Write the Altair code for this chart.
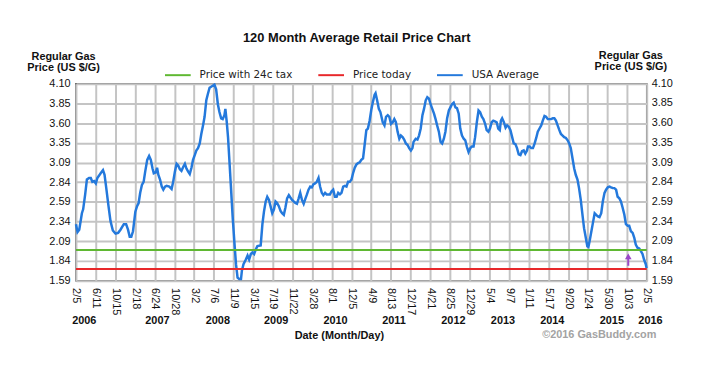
import altair as alt
import numpy as np
import pandas as pd

# ---------------- data (decimal year, price $/gal) ----------------
seg_2006_2007 = [
    (2006.098, 2.31), (2006.127, 2.21), (2006.156, 2.24), (2006.202, 2.45), (2006.225, 2.50),
    (2006.260, 2.69), (2006.289, 2.88), (2006.329, 2.90), (2006.358, 2.90), (2006.387, 2.85),
    (2006.416, 2.86), (2006.445, 2.83), (2006.474, 2.90), (2006.503, 2.93), (2006.532, 2.96),
    (2006.572, 3.00), (2006.601, 2.94), (2006.630, 2.77), (2006.665, 2.56), (2006.705, 2.35),
    (2006.746, 2.23), (2006.792, 2.19), (2006.838, 2.20), (2006.879, 2.24), (2006.936, 2.31),
    (2006.977, 2.31), (2007.011, 2.24), (2007.040, 2.15), (2007.069, 2.15), (2007.098, 2.22),
    (2007.139, 2.47), (2007.168, 2.54), (2007.196, 2.58), (2007.225, 2.71), (2007.254, 2.81),
    (2007.283, 2.85), (2007.312, 2.98), (2007.347, 3.13), (2007.381, 3.18), (2007.410, 3.13),
    (2007.439, 3.02), (2007.462, 2.96), (2007.497, 2.97), (2007.520, 3.03), (2007.543, 2.94),
    (2007.572, 2.88), (2007.601, 2.79), (2007.630, 2.75), (2007.659, 2.79), (2007.688, 2.80),
]
seg_2007_2009 = [
    (2007.734, 2.79), (2007.775, 2.76), (2007.803, 2.85), (2007.832, 2.98), (2007.861, 3.08),
    (2007.890, 3.06), (2007.919, 3.01), (2007.948, 2.99), (2007.977, 3.04), (2008.006, 3.08),
    (2008.035, 3.02), (2008.064, 2.98), (2008.092, 2.95), (2008.121, 3.03), (2008.150, 3.13),
    (2008.179, 3.19), (2008.208, 3.25), (2008.237, 3.28), (2008.266, 3.34), (2008.295, 3.46),
    (2008.324, 3.57), (2008.353, 3.68), (2008.382, 3.89), (2008.410, 3.97), (2008.439, 4.05),
    (2008.480, 4.07), (2008.526, 4.09), (2008.555, 4.03), (2008.584, 3.84), (2008.613, 3.74),
    (2008.642, 3.66), (2008.671, 3.65), (2008.699, 3.70), (2008.717, 3.78), (2008.740, 3.61),
    (2008.763, 3.42), (2008.786, 3.15), (2008.815, 2.77), (2008.844, 2.39), (2008.873, 2.10),
    (2008.902, 1.80), (2008.931, 1.63), (2008.960, 1.61), (2008.989, 1.61), (2009.006, 1.72),
    (2009.035, 1.80), (2009.075, 1.86), (2009.104, 1.91), (2009.133, 1.86), (2009.162, 1.93),
    (2009.191, 1.95), (2009.220, 1.93), (2009.249, 1.99),
]
seg_2009_2010 = [
    (2009.278, 2.03), (2009.335, 2.04), (2009.364, 2.31), (2009.393, 2.47), (2009.422, 2.60),
    (2009.451, 2.66), (2009.480, 2.62), (2009.509, 2.54), (2009.538, 2.45), (2009.567, 2.50),
    (2009.596, 2.60), (2009.624, 2.58), (2009.653, 2.54), (2009.682, 2.48), (2009.711, 2.45),
    (2009.740, 2.43), (2009.769, 2.52), (2009.798, 2.64), (2009.827, 2.68), (2009.856, 2.65),
    (2009.885, 2.62), (2009.913, 2.60), (2009.942, 2.58), (2009.971, 2.57), (2010.000, 2.64),
    (2010.029, 2.71), (2010.058, 2.62), (2010.087, 2.57), (2010.116, 2.63), (2010.145, 2.69),
    (2010.174, 2.75), (2010.203, 2.79), (2010.231, 2.78), (2010.260, 2.82), (2010.289, 2.83),
    (2010.318, 2.85), (2010.347, 2.90), (2010.376, 2.79), (2010.405, 2.71), (2010.434, 2.68),
    (2010.463, 2.71), (2010.492, 2.69), (2010.521, 2.69), (2010.549, 2.69), (2010.578, 2.73),
    (2010.607, 2.75), (2010.636, 2.66), (2010.665, 2.66), (2010.694, 2.71), (2010.723, 2.69),
    (2010.752, 2.71), (2010.781, 2.79), (2010.810, 2.80), (2010.838, 2.79), (2010.867, 2.85),
    (2010.896, 2.85), (2010.925, 2.88),
]
seg_2011_2012 = [
    (2010.954, 2.96), (2010.983, 3.03), (2011.012, 3.07), (2011.041, 3.09), (2011.070, 3.10),
    (2011.099, 3.13), (2011.128, 3.15), (2011.156, 3.32), (2011.185, 3.51), (2011.214, 3.53),
    (2011.243, 3.63), (2011.272, 3.76), (2011.301, 3.87), (2011.330, 3.96), (2011.347, 3.98),
    (2011.376, 3.89), (2011.405, 3.78), (2011.434, 3.74), (2011.474, 3.61), (2011.503, 3.57),
    (2011.532, 3.68), (2011.561, 3.70), (2011.590, 3.68), (2011.619, 3.59), (2011.648, 3.61),
    (2011.677, 3.65), (2011.705, 3.61), (2011.734, 3.49), (2011.763, 3.40), (2011.792, 3.44),
    (2011.821, 3.42), (2011.850, 3.39), (2011.879, 3.34), (2011.908, 3.32), (2011.937, 3.28),
    (2011.966, 3.25), (2011.995, 3.28), (2012.012, 3.36), (2012.052, 3.40), (2012.081, 3.39),
    (2012.110, 3.44), (2012.139, 3.53), (2012.168, 3.70), (2012.197, 3.78), (2012.226, 3.89),
    (2012.255, 3.93), (2012.284, 3.91), (2012.313, 3.84), (2012.342, 3.78), (2012.371, 3.72),
    (2012.399, 3.65), (2012.428, 3.57), (2012.457, 3.49), (2012.486, 3.36), (2012.515, 3.34),
    (2012.544, 3.40), (2012.573, 3.49),
]
seg_2012_2014 = [
    (2012.602, 3.66), (2012.631, 3.76), (2012.659, 3.80), (2012.688, 3.84), (2012.717, 3.86),
    (2012.746, 3.80), (2012.775, 3.79), (2012.804, 3.72), (2012.833, 3.53), (2012.862, 3.44),
    (2012.891, 3.40), (2012.920, 3.38), (2012.948, 3.30), (2012.977, 3.23), (2013.006, 3.28),
    (2013.035, 3.30), (2013.064, 3.30), (2013.093, 3.42), (2013.122, 3.61), (2013.151, 3.76),
    (2013.180, 3.74), (2013.209, 3.68), (2013.237, 3.65), (2013.266, 3.59), (2013.295, 3.51),
    (2013.324, 3.49), (2013.353, 3.53), (2013.382, 3.61), (2013.411, 3.63), (2013.440, 3.62),
    (2013.469, 3.61), (2013.498, 3.53), (2013.526, 3.51), (2013.544, 3.63), (2013.567, 3.66),
    (2013.596, 3.61), (2013.625, 3.54), (2013.654, 3.57), (2013.683, 3.55), (2013.711, 3.51),
    (2013.740, 3.42), (2013.769, 3.34), (2013.798, 3.33), (2013.827, 3.28), (2013.856, 3.20),
    (2013.885, 3.19), (2013.914, 3.24), (2013.943, 3.25), (2013.972, 3.21), (2014.001, 3.25),
    (2014.018, 3.30), (2014.047, 3.30), (2014.076, 3.28), (2014.105, 3.28), (2014.134, 3.34),
    (2014.162, 3.41), (2014.191, 3.49), (2014.220, 3.53),
]
seg_2014_2016 = [
    (2014.249, 3.57), (2014.278, 3.63), (2014.307, 3.69), (2014.336, 3.68), (2014.365, 3.65),
    (2014.394, 3.65), (2014.423, 3.65), (2014.452, 3.66), (2014.480, 3.66), (2014.509, 3.63),
    (2014.538, 3.57), (2014.567, 3.51), (2014.596, 3.46), (2014.625, 3.44), (2014.654, 3.42),
    (2014.683, 3.41), (2014.712, 3.38), (2014.741, 3.34), (2014.769, 3.28), (2014.798, 3.15),
    (2014.827, 3.02), (2014.856, 2.94), (2014.885, 2.88), (2014.914, 2.77), (2014.943, 2.62),
    (2014.972, 2.43), (2015.001, 2.26), (2015.030, 2.14), (2015.059, 2.03), (2015.076, 2.02),
    (2015.099, 2.10), (2015.128, 2.22), (2015.157, 2.33), (2015.186, 2.45), (2015.215, 2.43),
    (2015.244, 2.41), (2015.272, 2.40), (2015.301, 2.45), (2015.330, 2.60), (2015.359, 2.71),
    (2015.388, 2.75), (2015.417, 2.78), (2015.446, 2.79), (2015.475, 2.78), (2015.504, 2.77),
    (2015.533, 2.77), (2015.562, 2.75), (2015.590, 2.66), (2015.619, 2.64), (2015.648, 2.60),
    (2015.677, 2.52), (2015.706, 2.43), (2015.735, 2.31), (2015.764, 2.29), (2015.793, 2.29),
    (2015.822, 2.22), (2015.851, 2.20), (2015.879, 2.14), (2015.908, 2.05), (2015.937, 2.01),
    (2015.966, 2.00), (2015.995, 1.97), (2016.024, 1.93), (2016.053, 1.86), (2016.082, 1.80),
    (2016.096, 1.75),
]

series_names = ["Price with 24c tax", "Price today", "USA Average"]
series_colors = ["#5fb832", "#e8282b", "#2479dc"]
price_today = 1.74
price_with_tax = 1.98

arrow_year = 2015.776
arrow_from, arrow_to = 1.78, 1.90

y_ticks = [1.59, 1.841, 2.092, 2.343, 2.594, 2.845, 3.096, 3.347, 3.598, 3.849, 4.10]
y_labels = ["1.59", "1.84", "2.09", "2.34", "2.59", "2.84", "3.09", "3.35", "3.60", "3.85", "4.10"]

x_tick_dates = [
    (2006, 2, 5), (2006, 6, 11), (2006, 10, 15), (2007, 2, 18), (2007, 6, 24), (2007, 10, 28),
    (2008, 3, 2), (2008, 7, 6), (2008, 11, 9), (2009, 3, 15), (2009, 7, 19), (2009, 11, 22),
    (2010, 3, 28), (2010, 8, 1), (2010, 12, 5), (2011, 4, 9), (2011, 8, 13), (2011, 12, 17),
    (2012, 4, 21), (2012, 8, 25), (2012, 12, 29), (2013, 5, 4), (2013, 9, 7), (2014, 1, 11),
    (2014, 5, 17), (2014, 9, 20), (2015, 1, 24), (2015, 5, 30), (2015, 10, 3), (2016, 2, 5),
]
year_labels = ["2006", "2007", "2008", "2009", "2010", "2011", "2012", "2013", "2014", "2015", "2016"]
year_label_pos = [2006.243, 2007.526, 2008.584, 2009.607, 2010.648, 2011.671, 2012.712,
                  2013.579, 2014.446, 2015.487, 2016.163]

chart_title = "120 Month Average Retail Price Chart"
y_title = ["Regular Gas", "Price (US $/G)"]
x_title = "Date (Month/Day)"
credit = "\u00a92016 GasBuddy.com"


def to_date(years):
    days = (np.asarray(years, dtype=float) - 2006.0986) * 365.2
    return (pd.Timestamp("2006-02-05") + pd.to_timedelta(days, unit="D")).round("D")


pts = seg_2006_2007 + seg_2007_2009 + seg_2009_2010 + seg_2011_2012 + seg_2012_2014 + seg_2014_2016
df_line = pd.DataFrame({
    "date": to_date([p[0] for p in pts]),
    "price": [p[1] for p in pts],
    "series": "USA Average",
})
df_rules = pd.DataFrame({"series": series_names[:2], "price": [price_with_tax, price_today]})
df_arrow = pd.DataFrame({"date": to_date([arrow_year]), "price": [arrow_from], "p2": [arrow_to]})
df_years = pd.DataFrame({"date": to_date(year_label_pos), "label": year_labels})
df_one = pd.DataFrame({"t": [chart_title], "c": [credit], "yt": ["\n".join(y_title)]})
df_gy = pd.DataFrame({"price": y_ticks, "label": y_labels})

W, H = 577, 199

y_scale = alt.Scale(domain=[1.59, 4.10], nice=False, zero=False)
x_scale = alt.Scale(domain=[alt.DateTime(year=2006, month=2, date=5),
                            alt.DateTime(year=2016, month=2, date=5)])
color_scale = alt.Scale(domain=series_names, range=series_colors)

label_expr_y = "[" + ",".join("'%s'" % s for s in y_labels) + "][round((datum.value-1.59)/0.251)]"

FONT = "Liberation Sans"
GRID = "#c4c4c4"

x_axis = alt.Axis(
    values=[alt.DateTime(year=a, month=b, date=c) for a, b, c in x_tick_dates],
    labelExpr="timeFormat(datum.value, '%-m/%-d')",
    labelAngle=90, labelAlign="left", labelBaseline="middle",
    labelFont=FONT, labelFontSize=11, labelColor="#111", labelPadding=7,
    labelOverlap=False, labelFlush=False, labelBound=False,
    ticks=False, domain=False, grid=True, gridColor=GRID, gridWidth=2, gridOpacity=1,
    title=x_title, titleFont=FONT, titleFontSize=11, titleFontWeight="bold", titleColor="#111",
    titleX=265.8, titleY=58.7, titleAlign="center", titleBaseline="alphabetic", titleAngle=0,
)

left_axis = alt.Axis(
    values=y_ticks, labelExpr=label_expr_y, orient="left",
    labelFont=FONT, labelFontSize=11, labelColor="#111", labelPadding=6,
    labelOverlap=False, labelFlush=False, labelBound=False,
    ticks=False, domain=False, grid=True, gridColor=GRID, gridWidth=2, gridOpacity=1,
    title=y_title, titleFont=FONT, titleFontSize=11, titleFontWeight="bold", titleColor="#111",
    titleAngle=0, titleAlign="center", titleBaseline="alphabetic",
    titleX=-13, titleY=-24.7, titleLineHeight=11,
)

legend = alt.Legend(
    title=None, orient="none", legendX=89, legendY=-23, direction="horizontal",
    symbolType="stroke", symbolSize=676, symbolStrokeWidth=2,
    labelFont="DejaVu Sans", labelFontSize=10.5, labelColor="#222", labelOffset=8,
    columnPadding=22, padding=0,
)

X = alt.X("date:T", scale=x_scale, axis=x_axis)
Y = alt.Y("price:Q", scale=y_scale, axis=left_axis)

line = alt.Chart(df_line).mark_line(strokeWidth=2.5).encode(
    x=X, y=Y,
    color=alt.Color("series:N", scale=color_scale, legend=legend),
)
rules = alt.Chart(df_rules).mark_rule(strokeWidth=2).encode(
    y=Y,
    color=alt.Color("series:N", scale=color_scale, legend=legend),
)
arrow_shaft = alt.Chart(df_arrow).mark_rule(strokeWidth=2, color="#9a48c8").encode(
    x=X, y=Y, y2="p2:Q",
)
arrow_head = alt.Chart(df_arrow).mark_point(shape="triangle-up", filled=True, size=45,
                                             color="#9a48c8", opacity=1).encode(
    x=X, y=alt.Y("p2:Q", scale=y_scale, axis=left_axis),
)
years = alt.Chart(df_years).mark_text(font=FONT, fontSize=11, fontWeight="bold",
                                      color="#111", baseline="alphabetic", align="center").encode(
    x=X, y=alt.value(242.3), text="label:N",
)
title_txt = alt.Chart(df_one).mark_text(font=FONT, fontSize=13, fontWeight="bold",
                                        color="#111", baseline="alphabetic", align="center").encode(
    x=alt.value(283.8), y=alt.value(-42), text="t:N",
)
credit_txt = alt.Chart(df_one).mark_text(font=FONT, fontSize=11, fontWeight="bold",
                                         color="#a3a3a3", baseline="alphabetic", align="left").encode(
    x=alt.value(471.3), y=alt.value(257.3), text="c:N",
)
# right-hand axis (same scale as the left one)
right_labels = alt.Chart(df_gy).mark_text(font=FONT, fontSize=11, color="#111",
                                          align="left", baseline="middle").encode(
    y=Y, x=alt.value(W + 5), text="label:N",
)
right_title = alt.Chart(df_one).mark_text(font=FONT, fontSize=11, fontWeight="bold", color="#111",
                                          align="center", baseline="alphabetic",
                                          lineBreak="\n", lineHeight=11).encode(
    x=alt.value(W - 16), y=alt.value(-24.7), text="yt:N",
)

chart = alt.layer(
    line, rules, arrow_shaft, arrow_head, years, title_txt,
    credit_txt, right_labels, right_title
).properties(
    width=W, height=H,
    autosize=alt.AutoSizeParams(type="none"),
    padding={"left": 68.7, "top": 74.7, "right": 66, "bottom": 85},
).configure_view(
    stroke="#4a4a4a", strokeWidth=1.5,
)

chart.save("out.html", embed_options={"renderer": "svg", "actions": False})
